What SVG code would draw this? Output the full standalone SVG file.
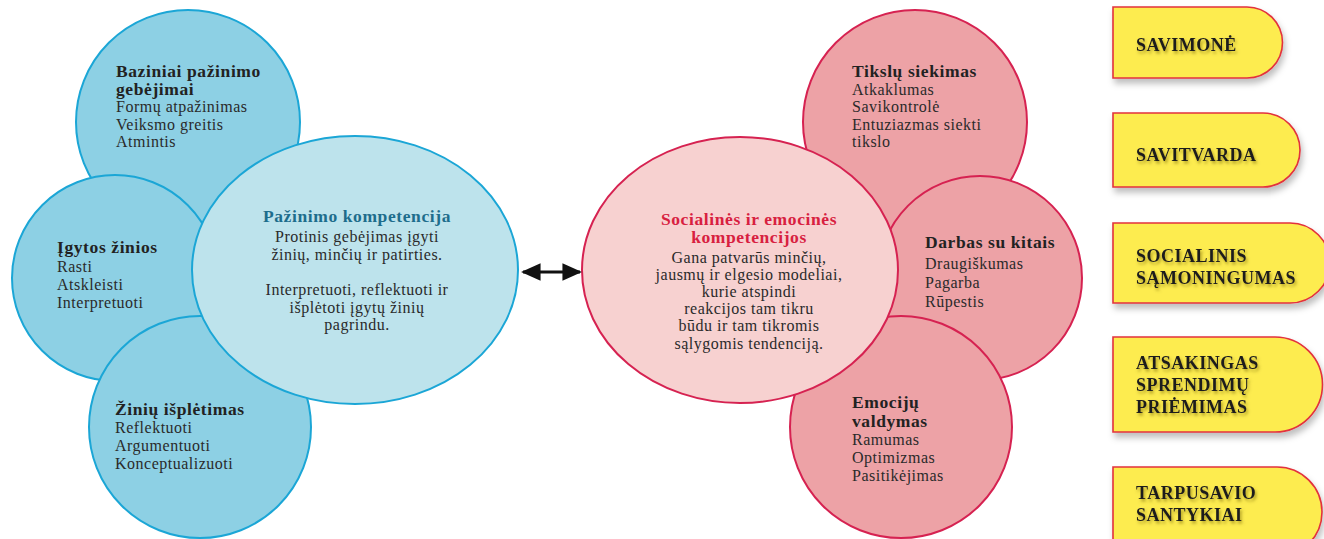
<svg xmlns="http://www.w3.org/2000/svg" width="1324" height="539" viewBox="0 0 1324 539">
<defs>
<filter id="tabShadow" x="-10%" y="-10%" width="130%" height="140%">
<feDropShadow dx="2" dy="5" stdDeviation="3" flood-color="#000" flood-opacity="0.25"/>
</filter>
<filter id="txtShadow" x="-10%" y="-30%" width="130%" height="180%">
<feDropShadow dx="1.5" dy="2.5" stdDeviation="1.8" flood-color="#6b5a00" flood-opacity="0.55"/>
</filter>
<marker id="ah" viewBox="0 0 10 10" refX="9" refY="5" markerWidth="6.5" markerHeight="6.5" orient="auto-start-reverse">
<path d="M0,0.5 L10,5 L0,9.5 Z" fill="#111"/>
</marker>
</defs>
<style>
text{font-family:"Liberation Serif","Times New Roman",serif;fill:#2a2a2a}
.h{font-weight:bold;font-size:17.5px;letter-spacing:0.6px;fill:#222}
.t{font-size:16px;letter-spacing:0.5px}
.c{text-anchor:middle}
.bo{fill:#8dd0e4;stroke:#1ba6d6;stroke-width:2}
.bc{fill:#bde3ec;stroke:#1ba6d6;stroke-width:2}
.po{fill:#eda2a6;stroke:#d62251;stroke-width:2}
.pc{fill:#f7d1d0;stroke:#d62251;stroke-width:2}
.tab{fill:#fdec50;stroke:#e2323c;stroke-width:1.6;filter:url(#tabShadow)}
.tt{font-weight:bold;font-size:18px;letter-spacing:0.5px;fill:#1e1e1e;filter:url(#txtShadow)}
</style>

<g id="bazinai">
<circle class="bo" cx="188" cy="122" r="112"/>
<text class="h" x="116" y="77">Baziniai pažinimo</text>
<text class="h" x="116" y="95">gebėjimai</text>
<text class="t" x="116" y="112">Formų atpažinimas</text>
<text class="t" x="116" y="130">Veiksmo greitis</text>
<text class="t" x="116" y="147">Atmintis</text>
</g>
<g id="igytos">
<circle class="bo" cx="115" cy="278" r="103"/>
<text class="h" x="57" y="253">Įgytos žinios</text>
<text class="t" x="57" y="272">Rasti</text>
<text class="t" x="57" y="290">Atskleisti</text>
<text class="t" x="57" y="308">Interpretuoti</text>
</g>
<g id="ziniu">
<circle class="bo" cx="200" cy="427" r="111"/>
<text class="h" x="115" y="415">Žinių išplėtimas</text>
<text class="t" x="115" y="433">Reflektuoti</text>
<text class="t" x="115" y="451">Argumentuoti</text>
<text class="t" x="115" y="469">Konceptualizuoti</text>
</g>
<g id="pazinimo">
<ellipse class="bc" cx="355" cy="270" rx="163" ry="134"/>
<text class="h c" x="357" y="222" style="fill:#1d6d8c">Pažinimo kompetencija</text>
<text class="t c" x="357" y="242">Protinis gebėjimas įgyti</text>
<text class="t c" x="357" y="260">žinių, minčių ir patirties.</text>
<text class="t c" x="357" y="295">Interpretuoti, reflektuoti ir</text>
<text class="t c" x="357" y="313">išplėtoti įgytų žinių</text>
<text class="t c" x="357" y="330">pagrindu.</text>
</g>

<g id="tikslu">
<circle class="po" cx="915" cy="122" r="112"/>
<text class="h" x="852" y="77">Tikslų siekimas</text>
<text class="t" x="852" y="95">Atkaklumas</text>
<text class="t" x="852" y="112">Savikontrolė</text>
<text class="t" x="852" y="130">Entuziazmas siekti</text>
<text class="t" x="852" y="147">tikslo</text>
</g>
<g id="darbas">
<circle class="po" cx="980" cy="278" r="102"/>
<text class="h" x="925" y="248">Darbas su kitais</text>
<text class="t" x="925" y="269">Draugiškumas</text>
<text class="t" x="925" y="288">Pagarba</text>
<text class="t" x="925" y="307">Rūpestis</text>
</g>
<g id="emociju">
<circle class="po" cx="901" cy="427" r="111"/>
<text class="h" x="852" y="408">Emocijų</text>
<text class="h" x="852" y="427">valdymas</text>
<text class="t" x="852" y="445">Ramumas</text>
<text class="t" x="852" y="463">Optimizmas</text>
<text class="t" x="852" y="481">Pasitikėjimas</text>
</g>
<g id="socialines">
<ellipse class="pc" cx="740" cy="270" rx="158" ry="133"/>
<text class="h c" x="749" y="225" style="fill:#d8203f">Socialinės ir emocinės</text>
<text class="h c" x="749" y="243" style="fill:#d8203f">kompetencijos</text>
<text class="t c" x="749" y="263">Gana patvarūs minčių,</text>
<text class="t c" x="749" y="280">jausmų ir elgesio modeliai,</text>
<text class="t c" x="749" y="297">kurie atspindi</text>
<text class="t c" x="749" y="314">reakcijos tam tikru</text>
<text class="t c" x="749" y="331">būdu ir tam tikromis</text>
<text class="t c" x="749" y="349">sąlygomis tendenciją.</text>
</g>

<g id="connectors">
<line x1="523" y1="272" x2="580" y2="272" stroke="#111" stroke-width="3" marker-start="url(#ah)" marker-end="url(#ah)"/>
</g>

<g id="savimone">
<path class="tab" d="M1113,7 H1247 A35.5,35.5 0 0 1 1247,78 H1113 Z"/>
<text class="tt" x="1136" y="51">SAVIMONĖ</text>
</g>
<g id="savitvarda">
<path class="tab" d="M1113,113 H1263 A37,37 0 0 1 1263,187 H1113 Z"/>
<text class="tt" x="1136" y="161">SAVITVARDA</text>
</g>
<g id="socialinis">
<path class="tab" d="M1113,223 H1290 A40,40 0 0 1 1290,303 H1113 Z"/>
<text class="tt" x="1136" y="262">SOCIALINIS</text>
<text class="tt" x="1136" y="284">SĄMONINGUMAS</text>
</g>
<g id="atsakingas">
<path class="tab" d="M1113,337 H1275 A47.5,47.5 0 0 1 1275,432 H1113 Z"/>
<text class="tt" x="1136" y="369">ATSAKINGAS</text>
<text class="tt" x="1136" y="391">SPRENDIMŲ</text>
<text class="tt" x="1136" y="413">PRIĖMIMAS</text>
</g>
<g id="tarpusavio">
<path class="tab" d="M1113,467 H1277 A45,45 0 0 1 1277,557 H1113 Z"/>
<text class="tt" x="1136" y="499">TARPUSAVIO</text>
<text class="tt" x="1136" y="521">SANTYKIAI</text>
</g>
</svg>
